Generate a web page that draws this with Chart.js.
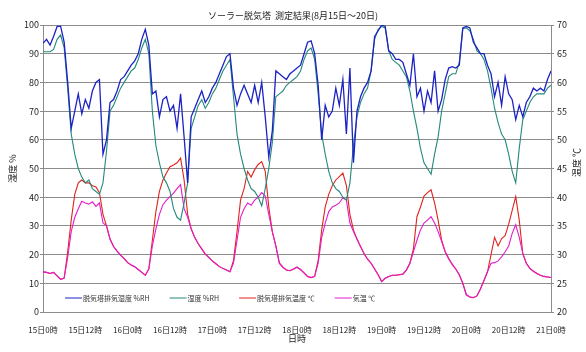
<!DOCTYPE html>
<html>
<head>
<meta charset="utf-8">
<script src="https://cdn.jsdelivr.net/npm/chart.js@4"></script>
<style>
  html, body { margin: 0; padding: 0; background: #fff; }
  #wrap { width: 586px; height: 352px; }
</style>
</head>
<body>
<div id="wrap"><canvas id="tower"></canvas></div>
<script>
// hours since 15日0時 (hourly readings)
const hours = Array.from({ length: 145 }, (_, i) => i);
const tickLabels = ['15日0時', '15日12時', '16日0時', '16日12時', '17日0時', '17日12時', '18日0時',
  '18日12時', '19日0時', '19日12時', '20日0時', '20日12時', '21日0時'];

// 脱気塔排気湿度 %RH
const exhaustRH = [
  93.6, 95, 93, 96, 99.5, 99.5, 94, 80, 64, 70, 76, 69, 74, 71, 77, 80, 81, 55, 60, 73, 74, 77, 81, 82,
  84, 86, 87.5, 90, 95, 98.5, 93, 76, 77, 68, 74, 75, 70, 72, 64, 76, 61, 45, 68, 71, 74, 77, 73, 75,
  78, 80, 83, 86, 89, 90, 78, 72, 76, 79, 76, 73, 79, 73, 80, 68, 54, 63, 84, 83, 82, 81, 83, 84,
  85, 86, 90, 94, 94.5, 90, 79, 60, 72, 68, 70, 78, 72, 81, 62, 85, 52, 70, 75, 78, 80, 84, 96, 98,
  100, 99.5, 91, 90, 88, 88, 87, 83, 79, 90, 75, 78, 70, 77, 73, 84, 70, 74, 81, 85, 85.5, 85, 86, 99,
  99.5, 99, 94, 92, 90, 90, 86, 83, 75, 80, 72, 82, 76, 74, 67, 72, 68, 73, 75, 78, 77, 78, 77, 81,
  84
];
// 湿度 %RH
const airRH = [
  90.7, 90.7, 90.7, 91.5, 95, 96.5, 92, 78, 62, 55, 50, 47, 45, 46, 43, 42, 41, 45, 56, 70, 72, 75, 78, 80,
  82, 84, 85, 88, 92, 95, 90, 70, 58, 52, 47, 45, 42, 36, 33, 32, 38, 45, 64, 68, 72, 74, 71, 73,
  76, 78, 81, 84, 86, 88, 75, 62, 55, 50, 46, 43, 42, 40, 37, 43, 50, 59, 75, 76, 77, 79, 80, 81,
  82, 84, 88, 91, 92, 88, 76, 62, 55, 49, 45, 43, 42, 40, 39, 45, 58, 68, 73, 76, 78, 84, 95, 98.5,
  99.5, 99, 91, 88, 87, 86, 84, 82, 77, 70, 64, 57, 52, 50, 48, 55, 61, 70, 76, 82, 83, 83, 87, 98.8,
  99, 98, 95, 91, 90, 88, 84, 78, 71, 66, 62, 60, 55, 49, 45, 57, 67, 70, 73, 75, 76, 76, 76, 78,
  79
];
// 脱気塔排気温度 ℃
const exhaustTemp = [
  27.0, 26.9, 26.7, 26.9, 26.3, 25.7, 25.9, 30.5, 36, 40.5, 42.5, 43, 42.5, 42.5, 42, 41.8, 40.8, 37, 35, 32.7, 31.4, 30.6, 29.9, 29.3,
  28.6, 28.2, 27.9, 27.4, 26.9, 26.4, 27.5, 32.5, 37.5, 41, 43, 44.2, 45.3, 45.6, 46, 46.8, 43, 37, 34.5, 33, 31.9, 31, 30.1, 29.5,
  28.9, 28.4, 27.9, 27.6, 27.3, 27.0, 29, 34, 39.5, 41.5, 44.5, 43.5, 44.8, 45.7, 46.2, 44.5, 38.3, 34, 31.5, 28.5, 27.8, 27.3, 27.2, 27.5,
  27.8, 27.4, 26.8, 26.2, 26.0, 26.2, 29, 34.3, 38.3, 40.5, 42, 43, 43.6, 44.2, 42, 37, 34.3, 32.7, 31.4, 30.2, 29.2, 28.5, 27.5, 26.5,
  25.3, 25.9, 26.2, 26.4, 26.4, 26.5, 26.6, 27.3, 28.5, 31, 36.6, 38.3, 40.2, 40.8, 41.3, 39, 36, 32.5, 30.5, 29.3, 28.3, 27.5, 26.5, 25,
  23, 22.6, 22.5, 22.8, 24, 25.5, 27, 30, 33, 31.5, 32.8, 33.3, 35.3, 37.7, 40.1, 36, 30.2, 28.5, 27.6, 27.1, 26.7, 26.4, 26.2, 26.1,
  26.0
];
// 気温 ℃
const airTemp = [
  27.0, 26.9, 26.7, 26.9, 26.3, 25.7, 25.9, 29.5, 34, 36.5, 38, 39.3, 39, 38.8, 39.2, 38.4, 39, 35.5, 35, 32.7, 31.4, 30.6, 29.9, 29.3,
  28.6, 28.2, 27.9, 27.4, 26.9, 26.4, 27.5, 31.5, 34.5, 37, 38.7, 39.5, 40.1, 40.7, 41.5, 42.2, 38, 36.5, 34.5, 33, 31.9, 31, 30.1, 29.5,
  28.9, 28.4, 27.9, 27.6, 27.3, 27.0, 28.5, 32.5, 36.5, 38, 39, 38.6, 39.5, 40, 40.8, 40.2, 37, 34, 31.5, 28.5, 27.8, 27.3, 27.2, 27.5,
  27.8, 27.4, 26.8, 26.2, 26.0, 26.2, 28.5, 33, 35.5, 37.5, 38.3, 38.6, 39, 39.9, 39.5, 35.5, 34, 32.7, 31.4, 30.2, 29.2, 28.5, 27.5, 26.5,
  25.3, 25.9, 26.2, 26.4, 26.4, 26.5, 26.6, 27.3, 28.5, 30.5, 32.5, 34.3, 35.5, 36, 36.6, 35.5, 34, 32.3, 30.5, 29.3, 28.3, 27.5, 26.5, 25,
  23, 22.6, 22.5, 22.8, 24, 25.5, 27, 28.5, 28.6, 28.9, 29.6, 30.5, 31.5, 33.7, 35.2, 33, 30.2, 28.5, 27.6, 27.1, 26.7, 26.4, 26.2, 26.1,
  26.0
];

const JP = '"Noto Sans CJK JP", "Noto Sans", sans-serif';
const gridGray = '#8c8c8c';

// legend drawn inside the plot, along the bottom
const insideLegend = {
  id: 'insideLegend',
  afterDraw(chart) {
    const { ctx, chartArea } = chart;
    ctx.save();
    ctx.font = '7px ' + JP;
    ctx.textBaseline = 'middle';
    let x = chartArea.left + 22;
    const y = chartArea.bottom - 14;
    chart.data.datasets.forEach(ds => {
      ctx.strokeStyle = ds.borderColor;
      ctx.lineWidth = 1;
      ctx.beginPath();
      ctx.moveTo(x, y);
      ctx.lineTo(x + 17, y);
      ctx.stroke();
      ctx.fillStyle = '#333';
      ctx.fillText(ds.label, x + 18, y);
      x += 18 + ctx.measureText(ds.label).width + 20;
    });
    ctx.restore();
  }
};

// right axis title, reading bottom-to-top like the left one
const rightTitle = {
  id: 'rightTitle',
  afterDraw(chart) {
    const { ctx, chartArea } = chart;
    ctx.save();
    ctx.translate(577, (chartArea.top + chartArea.bottom) / 2 - 6);
    ctx.rotate(-Math.PI / 2);
    ctx.font = '9px ' + JP;
    ctx.fillStyle = '#222';
    ctx.textAlign = 'center';
    ctx.textBaseline = 'middle';
    ctx.fillText('温度 ℃', 0, 0);
    ctx.restore();
  }
};

new Chart(document.getElementById('tower'), {
  type: 'line',
  data: {
    labels: hours,
    datasets: [
      { label: '脱気塔排気湿度 %RH', data: exhaustRH, yAxisID: 'y', borderColor: '#1d22c4', borderWidth: 1.3, order: 0 },
      { label: '湿度 %RH', data: airRH, yAxisID: 'y', borderColor: '#23897a', borderWidth: 1.1, order: 1 },
      { label: '脱気塔排気温度 ℃', data: exhaustTemp, yAxisID: 'y2', borderColor: '#e0231c', borderWidth: 1.1, order: 3 },
      { label: '気温 ℃', data: airTemp, yAxisID: 'y2', borderColor: '#e41ccb', borderWidth: 1.1, order: 2 }
    ]
  },
  options: {
    responsive: true,
    maintainAspectRatio: false,
    animation: false,
    layout: { padding: 0 },
    elements: { point: { radius: 0 }, line: { tension: 0 } },
    plugins: {
      legend: { display: false },
      tooltip: { enabled: false },
      title: {
        display: true,
        text: 'ソーラー脱気塔  測定結果(8月15日～20日)',
        font: { family: JP, size: 9, weight: 'normal' },
        color: '#222',
        padding: { top: 10, bottom: 4.2 }
      }
    },
    scales: {
      x: {
        type: 'linear',
        min: 0,
        max: 144,
        afterFit: s => { s.height = 40; },
        grid: { display: false },
        border: { color: gridGray },
        ticks: {
          stepSize: 12,
          autoSkip: false,
          maxRotation: 0,
          padding: 5,
          color: '#222',
          font: { family: JP, size: 8 },
          callback: (v, i) => tickLabels[i]
        },
        title: { display: true, text: '日時', color: '#222', font: { family: JP, size: 9 }, padding: { top: 0, bottom: 7.6 } }
      },
      y: {
        position: 'left',
        min: 0,
        max: 100,
        afterFit: s => { s.width = 43; },
        grid: { color: gridGray, tickLength: 3 },
        border: { color: gridGray },
        ticks: { stepSize: 10, padding: 1, color: '#222', font: { family: JP, size: 9 } },
        title: { display: true, text: '湿度 %', color: '#222', font: { family: JP, size: 9 }, padding: { top: 7.6, bottom: 0 } }
      },
      y2: {
        position: 'right',
        min: 20,
        max: 70,
        afterFit: s => { s.width = 35; },
        grid: { drawOnChartArea: false, color: gridGray, tickLength: 3 },
        border: { color: gridGray },
        ticks: { stepSize: 5, padding: 3, color: '#222', font: { family: JP, size: 9 } }
      }
    }
  },
  plugins: [insideLegend, rightTitle]
});
</script>
</body>
</html>
